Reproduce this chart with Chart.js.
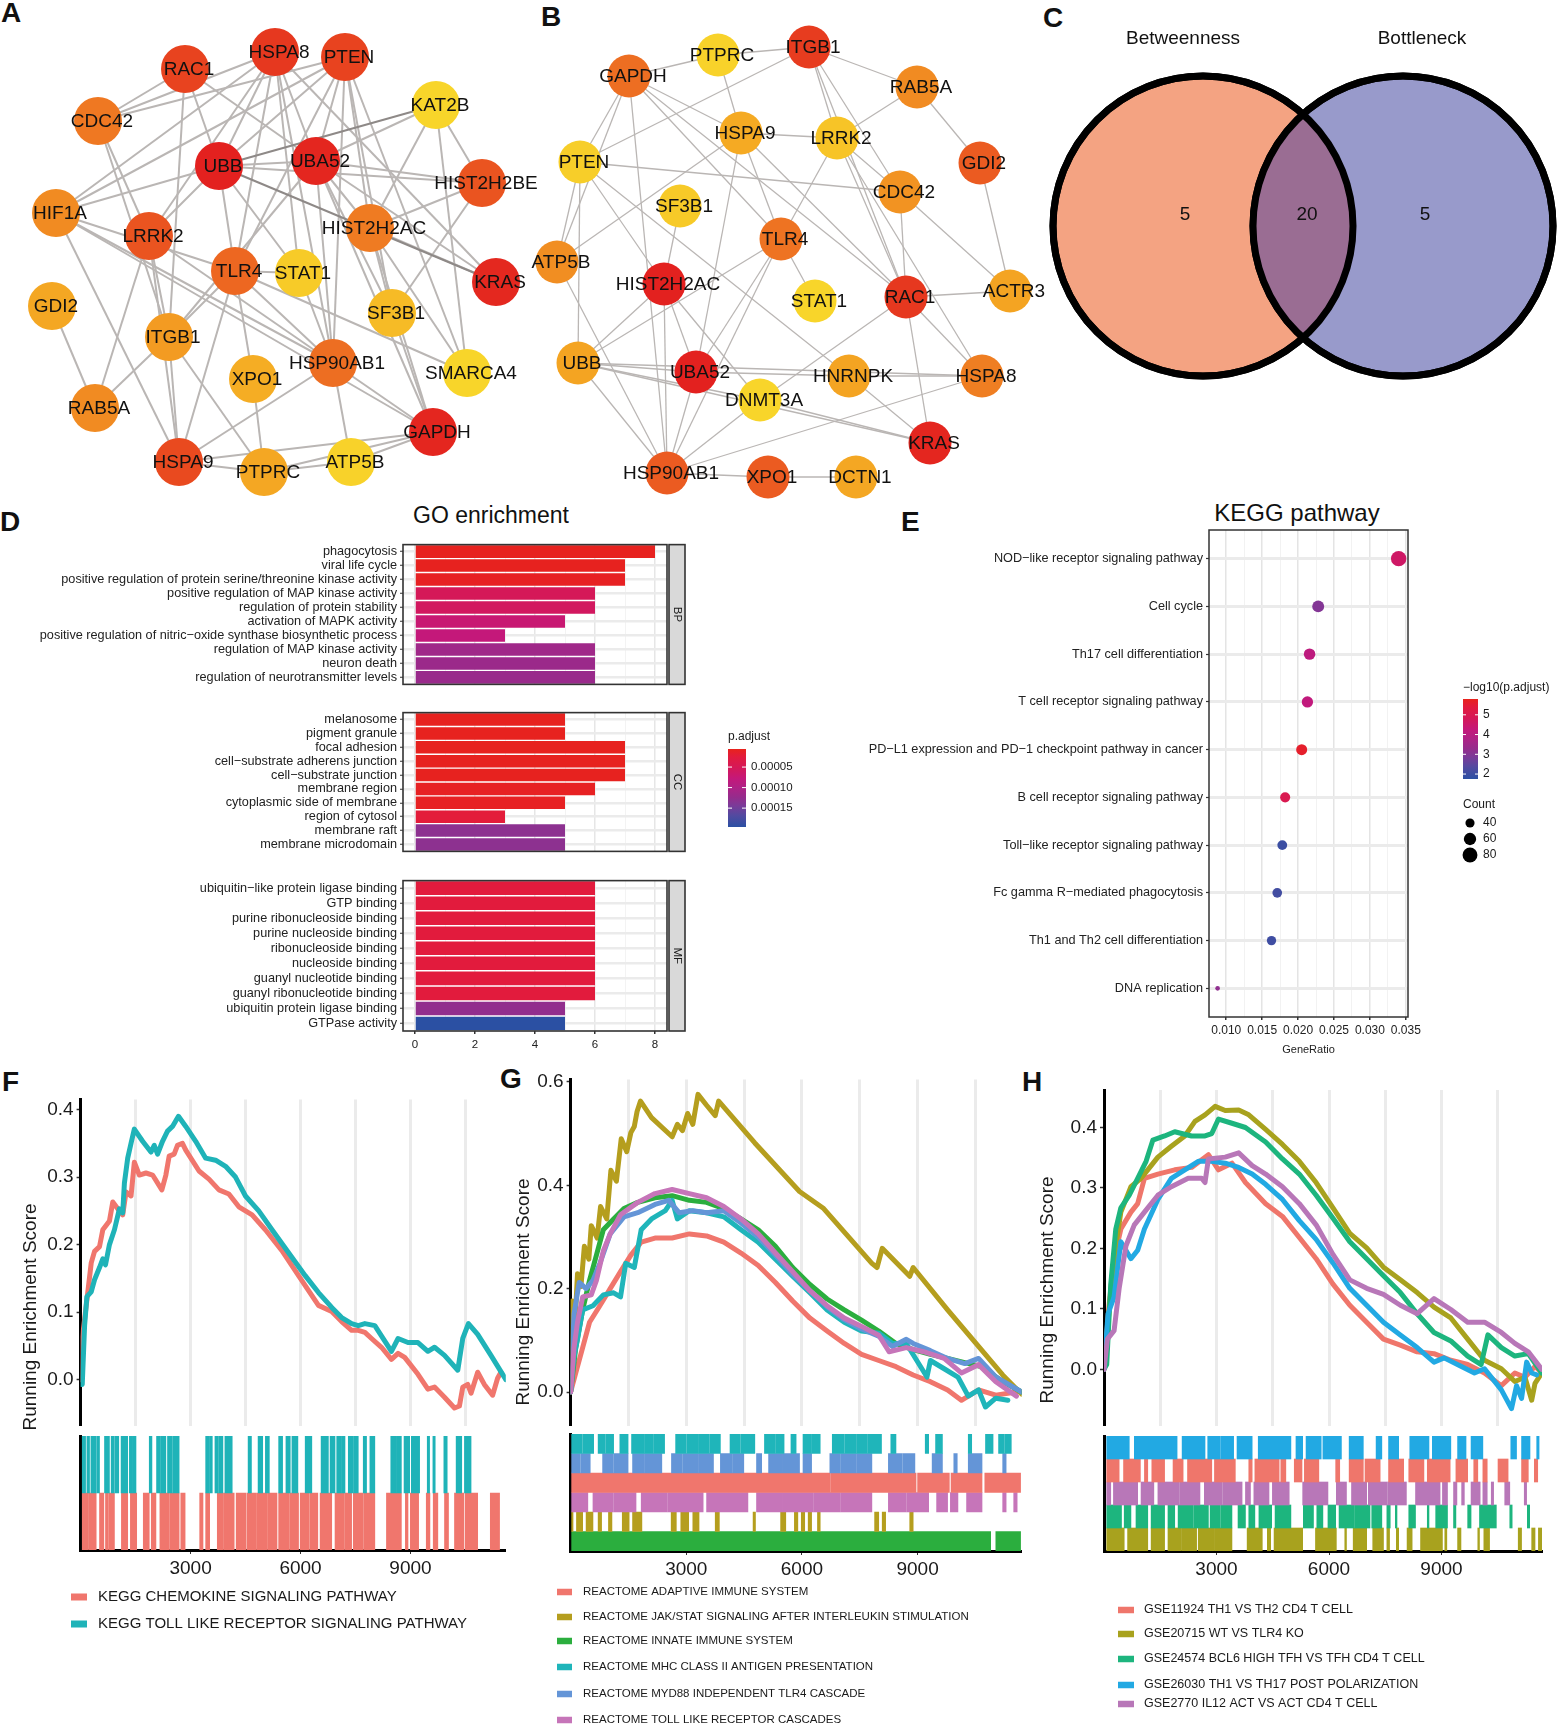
<!DOCTYPE html>
<html>
<head>
<meta charset="utf-8">
<title>PPI network, enrichment and GSEA</title>
<script src="https://cdn.jsdelivr.net/npm/chart.js@4.4.1/dist/chart.umd.min.js"></script>
<style>
  html, body { margin: 0; padding: 0; background: #fff; }
  #page { position: relative; width: 1558px; height: 1727px; overflow: hidden;
          font-family: "Liberation Sans", Arial, Helvetica, sans-serif; color: #111; }
  #page canvas { position: absolute; }
  .tag { position: absolute; font-weight: bold; font-size: 28px; line-height: 28px; }
  .ttl { position: absolute; width: 300px; text-align: center; color: #111; }
</style>
</head>
<body>
<div id="page">
  <div class="tag" style="left:1px;top:-1px">A</div>
  <div class="tag" style="left:541px;top:3px">B</div>
  <div class="tag" style="left:1043px;top:4px">C</div>
  <div class="tag" style="left:0px;top:508px">D</div>
  <div class="tag" style="left:901px;top:508px">E</div>
  <div class="tag" style="left:2px;top:1068px">F</div>
  <div class="tag" style="left:500px;top:1065px">G</div>
  <div class="tag" style="left:1022px;top:1068px">H</div>
  <div class="ttl" style="left:341px;top:504px;font-size:23px;line-height:23px">GO enrichment</div>
  <div class="ttl" style="left:1147px;top:501px;font-size:24px;line-height:24px">KEGG pathway</div>
</div>
<script>
// ---------------- data ----------------
// A: hub network (layout units = px of the panel), score 0 = top rank (red) .. 1 = low (yellow)
var netA_genes = ['RAC1','HSPA8','PTEN','CDC42','KAT2B','UBB','UBA52','HIST2H2BE','HIF1A','LRRK2','HIST2H2AC','TLR4','STAT1','KRAS','GDI2','SF3B1','ITGB1','XPO1','HSP90AB1','SMARCA4','RAB5A','GAPDH','HSPA9','PTPRC','ATP5B'];
var netA_x = [185,275,345,98,436,219,316,482,56,149,370,235,299,496,52,392,169,253,333,467,95,433,179,264,351];
var netA_y = [69,52,57,121,105,166,161,183,213,236,228,271,273,282,306,313,337,379,363,373,408,432,462,472,462];
var netA_score = [0.15,0.1,0.15,0.38,1,0,0.02,0.22,0.5,0.22,0.4,0.3,0.93,0.03,0.68,0.82,0.6,0.72,0.33,1,0.5,0.02,0.18,0.68,0.98];
var netA_links = ['RAC1-CDC42','RAC1-UBB','RAC1-ITGB1','RAC1-UBA52','HSPA8-CDC42','HSPA8-HIF1A','HSPA8-UBB','HSPA8-UBA52','HSPA8-TLR4','HSPA8-LRRK2','HSPA8-KRAS','HSPA8-STAT1','HSPA8-HSP90AB1','PTEN-CDC42','PTEN-HIF1A','PTEN-UBB','PTEN-UBA52','PTEN-TLR4','PTEN-HIST2H2AC','PTEN-SMARCA4','PTEN-HSP90AB1','PTEN-SF3B1','KAT2B-UBA52','KAT2B-HIST2H2AC','KAT2B-HIST2H2BE','KAT2B-SMARCA4','UBB-UBA52','UBB-HIST2H2BE','UBB-HIF1A','UBB-TLR4','UBB-STAT1','UBB-LRRK2','UBA52-HIST2H2BE','UBA52-HIST2H2AC','UBA52-SF3B1','UBA52-HSP90AB1','UBA52-ITGB1','UBA52-GAPDH','UBA52-KRAS','HIST2H2BE-HIST2H2AC','HIST2H2BE-SF3B1','HIF1A-HSP90AB1','HIF1A-TLR4','HIF1A-GAPDH','HIF1A-HSPA9','CDC42-LRRK2','CDC42-ITGB1','LRRK2-RAB5A','LRRK2-HSP90AB1','LRRK2-HSPA9','LRRK2-ITGB1','HIST2H2AC-SF3B1','HIST2H2AC-KRAS','HIST2H2AC-SMARCA4','HIST2H2AC-GAPDH','TLR4-STAT1','TLR4-ITGB1','TLR4-HSPA9','TLR4-XPO1','TLR4-SMARCA4','TLR4-HSP90AB1','STAT1-HSP90AB1','GDI2-RAB5A','ITGB1-RAB5A','ITGB1-HSPA9','ITGB1-PTPRC','HSP90AB1-HSPA9','HSP90AB1-GAPDH','HSP90AB1-ATP5B','SF3B1-GAPDH','XPO1-PTPRC','GAPDH-ATP5B','GAPDH-PTPRC','GAPDH-HSPA9','HSPA9-PTPRC','PTPRC-ATP5B'];
var netA_strong = ['KAT2B-UBB','UBB-KRAS'];

// B
var netB_genes = ['PTPRC','ITGB1','GAPDH','RAB5A','HSPA9','LRRK2','PTEN','GDI2','CDC42','SF3B1','TLR4','ATP5B','HIST2H2AC','STAT1','RAC1','ACTR3','UBB','UBA52','HNRNPK','HSPA8','DNMT3A','KRAS','HSP90AB1','XPO1','DCTN1'];
var netB_x = [718,809,629,917,741,837,580,980,900,680,781,557,664,815,906,1010,578,696,849,982,760,930,667,768,856];
var netB_y = [55,47,76,87,133,138,162,163,192,206,239,262,284,301,297,291,363,372,376,376,400,443,473,477,477];
var netB_score = [0.98,0.12,0.33,0.5,0.7,0.88,0.95,0.25,0.55,0.92,0.35,0.52,0,1,0.1,0.66,0.66,0,0.66,0.42,1,0.02,0.25,0.25,0.68];
var netB_links = ['GAPDH-PTPRC','PTPRC-ITGB1','PTPRC-HSPA9','ITGB1-PTEN','ITGB1-RAB5A','ITGB1-CDC42','ITGB1-RAC1','ITGB1-LRRK2','RAB5A-LRRK2','RAB5A-GDI2','GDI2-ACTR3','GAPDH-PTEN','GAPDH-ATP5B','GAPDH-HSP90AB1','GAPDH-HSPA9','GAPDH-TLR4','GAPDH-RAC1','HSPA9-LRRK2','HSPA9-TLR4','HSPA9-ATP5B','HSPA9-UBA52','HSPA9-RAC1','LRRK2-CDC42','LRRK2-TLR4','LRRK2-RAC1','LRRK2-HSPA8','PTEN-CDC42','PTEN-ATP5B','PTEN-UBB','PTEN-HIST2H2AC','PTEN-HNRNPK','SF3B1-HIST2H2AC','TLR4-STAT1','TLR4-UBA52','TLR4-UBB','TLR4-HSP90AB1','CDC42-RAC1','CDC42-ACTR3','RAC1-ACTR3','RAC1-HSPA8','RAC1-KRAS','RAC1-DNMT3A','ATP5B-HSP90AB1','HIST2H2AC-UBB','HIST2H2AC-UBA52','HIST2H2AC-HSP90AB1','HIST2H2AC-DNMT3A','UBB-UBA52','UBB-HSPA8','UBB-DNMT3A','UBB-HSP90AB1','UBB-KRAS','UBA52-HSP90AB1','UBA52-HNRNPK','HNRNPK-KRAS','HNRNPK-HSPA8','DNMT3A-HSP90AB1','DNMT3A-KRAS','HSPA8-HSP90AB1','HSP90AB1-XPO1','XPO1-DCTN1'];

// C: Venn
var vennNames = ['Betweenness', 'Bottleneck'];
var vennOnly = [5, 5];
var vennBoth = 20;

// D: GO enrichment
var bpTerms = ['phagocytosis','viral life cycle','positive regulation of protein serine/threonine kinase activity','positive regulation of MAP kinase activity','regulation of protein stability','activation of MAPK activity','positive regulation of nitric\u2212oxide synthase biosynthetic process','regulation of MAP kinase activity','neuron death','regulation of neurotransmitter levels'];
var bpCount = [8,7,7,6,6,5,3,6,6,6];
var bpPadj = [0.000008,0.000008,0.00001,0.000052,0.000057,0.000072,0.000078,0.000114,0.000118,0.00012];
var ccTerms = ['melanosome','pigment granule','focal adhesion','cell\u2212substrate adherens junction','cell\u2212substrate junction','membrane region','cytoplasmic side of membrane','region of cytosol','membrane raft','membrane microdomain'];
var ccCount = [5,5,7,7,7,6,5,3,5,5];
var ccPadj = [0.000008,0.000008,0.000008,0.000008,0.000008,0.00001,0.00001,0.000023,0.00013,0.00013];
var mfTerms = ['ubiquitin\u2212like protein ligase binding','GTP binding','purine ribonucleoside binding','purine nucleoside binding','ribonucleoside binding','nucleoside binding','guanyl nucleotide binding','guanyl ribonucleotide binding','ubiquitin protein ligase binding','GTPase activity'];
var mfCount = [6,6,6,6,6,6,6,6,5,5];
var mfPadj = [0.000025,0.000025,0.000025,0.000025,0.000025,0.000025,0.000025,0.000025,0.000126,0.000196];
var padjBreaks = [0.00005, 0.00010, 0.00015];
var countTicks = [0, 2, 4, 6, 8];

// E: KEGG
var keggTerms = ['NOD\u2212like receptor signaling pathway','Cell cycle','Th17 cell differentiation','T cell receptor signaling pathway','PD\u2212L1 expression and PD\u22121 checkpoint pathway in cancer','B cell receptor signaling pathway','Toll\u2212like receptor signaling pathway','Fc gamma R\u2212mediated phagocytosis','Th1 and Th2 cell differentiation','DNA replication'];
var keggRatio = [0.0340,0.0228,0.0216,0.0213,0.0205,0.0182,0.0178,0.0171,0.0163,0.0088];
var keggCount = [85,57,54,53,51,45,44,43,41,22];
var keggLogP = [4.6,3.0,4.1,4.2,5.6,5.0,2.0,2.1,2.05,3.2];
var keggTicks = [0.010,0.015,0.020,0.025,0.030,0.035];
var keggBreaks = [5,4,3,2];
var countBreaks = [40,60,80];

// F/G/H: GSEA rank ticks
var rankTicks = [3000, 6000, 9000];

// F: GSEA (rank, running ES) and hit ranges
var fNames = ['KEGG CHEMOKINE SIGNALING PATHWAY','KEGG TOLL LIKE RECEPTOR SIGNALING PATHWAY'];
var fChemokine = [[0,0],[18,0.048],[154,0.11],[290,0.173],[380,0.19],[516,0.197],[606,0.222],[787,0.235],[878,0.263],[1014,0.253],[1149,0.244],[1240,0.278],[1376,0.272],[1466,0.322],[1602,0.303],[1783,0.306],[1964,0.303],[2217,0.281],[2326,0.303],[2416,0.331],[2552,0.334],[2643,0.347],[2778,0.35],[2869,0.34],[3231,0.309],[3502,0.297],[3774,0.281],[4045,0.275],[4317,0.256],[4679,0.244],[5041,0.222],[5493,0.191],[5946,0.154],[6489,0.11],[6851,0.101],[7122,0.086],[7394,0.073],[7575,0.073],[7756,0.07],[7937,0.061],[8208,0.048],[8480,0.03],[8661,0.039],[8842,0.033],[9204,0.008],[9475,-0.014],[9656,-0.011],[9928,-0.026],[10200,-0.042],[10335,-0.039],[10426,-0.011],[10561,-0.007],[10652,-0.02],[10833,0.011],[11014,-0.007],[11240,-0.023],[11376,0.002],[11467,0.011]];
var fToll = [[0,-0.007],[45,-0.007],[109,0.08],[172,0.123],[290,0.13],[380,0.148],[516,0.166],[606,0.179],[679,0.17],[787,0.2],[923,0.222],[1059,0.253],[1149,0.247],[1195,0.291],[1285,0.328],[1376,0.35],[1466,0.371],[1692,0.353],[1919,0.337],[2009,0.347],[2100,0.334],[2235,0.353],[2371,0.368],[2507,0.375],[2670,0.39],[2869,0.375],[3140,0.353],[3412,0.328],[3683,0.325],[3955,0.316],[4226,0.3],[4498,0.272],[4860,0.25],[5222,0.222],[5674,0.188],[6127,0.154],[6489,0.129],[6851,0.107],[7122,0.092],[7394,0.083],[7575,0.08],[7756,0.083],[8027,0.08],[8480,0.042],[8661,0.061],[8932,0.055],[9204,0.055],[9475,0.042],[9656,0.048],[9928,0.036],[10290,0.014],[10426,0.061],[10580,0.083],[10833,0.067],[11195,0.036],[11602,0.0]];
var fChemokineHits = [[45,200],[215,425],[516,634],[679,760],[780,923],[1113,1285],[1358,1530],[1710,1873],[1928,2055],[2163,2420],[2435,2688],[2733,2851],[3249,3339],[3412,3521],[3729,3900],[3920,4190],[4244,4516],[4543,4800],[4820,5100],[5120,5358],[5403,5680],[5700,5946],[5991,6240],[6260,6471],[6534,6851],[6941,7180],[7200,7394],[7439,7700],[7720,8027],[8344,8751],[8860,8932],[8996,9222],[9430,9530],[9620,9746],[9928,10037],[10200,10453],[10489,10833],[11177,11430]];
var fTollHits = [[45,136],[172,244],[281,425],[443,516],[652,787],[833,920],[940,1041],[1104,1285],[1330,1420],[1435,1511],[1873,1946],[2072,2180],[2195,2326],[2371,2500],[2515,2688],[3412,3500],[3515,3593],[3665,3760],[3775,3882],[3937,4136],[4570,4661],[4842,4968],[5041,5149],[5403,5511],[5602,5720],[5765,5928],[6127,6308],[6561,6760],[6806,6941],[6987,7100],[7115,7213],[7303,7430],[7445,7575],[7711,7801],[7892,8027],[8462,8600],[8615,8751],[8824,8978],[9023,9249],[9457,9521],[9611,9674],[9910,10001],[10245,10398],[10471,10652]];

// G
var gNames = ['REACTOME ADAPTIVE IMMUNE SYSTEM','REACTOME JAK/STAT SIGNALING AFTER INTERLEUKIN STIMULATION','REACTOME INNATE IMMUNE SYSTEM','REACTOME MHC CLASS II ANTIGEN PRESENTATION','REACTOME MYD88 INDEPENDENT TLR4 CASCADE','REACTOME TOLL LIKE RECEPTOR CASCADES'];
var gAdaptive = [[0,0],[134,0.037],[313,0.086],[491,0.135],[759,0.167],[1027,0.2],[1295,0.233],[1563,0.265],[1831,0.29],[2188,0.298],[2634,0.298],[3081,0.306],[3527,0.302],[3974,0.29],[4420,0.269],[4867,0.245],[5313,0.212],[5760,0.176],[6206,0.143],[6653,0.118],[7099,0.094],[7546,0.073],[7992,0.061],[8439,0.049],[8885,0.033],[9332,0.02],[9778,0.004],[10136,-0.016],[10582,0.004],[11028,-0.006],[11564,0]];
var gJak = [[0,0],[45,0.176],[116,0.135],[179,0.229],[268,0.204],[357,0.282],[473,0.257],[536,0.322],[688,0.298],[777,0.359],[938,0.335],[1045,0.429],[1188,0.408],[1313,0.49],[1456,0.465],[1563,0.502],[1652,0.514],[1724,0.543],[1813,0.563],[2099,0.531],[2634,0.494],[2768,0.518],[2902,0.506],[3036,0.539],[3170,0.518],[3304,0.576],[3527,0.555],[3751,0.535],[3840,0.563],[4778,0.482],[5938,0.388],[6564,0.355],[7814,0.249],[7948,0.241],[8082,0.278],[8796,0.224],[8885,0.241],[9778,0.159],[11207,0.033],[11698,-0.004]];
var gInnate = [[0,0],[134,0.086],[313,0.159],[491,0.216],[670,0.265],[848,0.314],[1116,0.335],[1384,0.355],[1741,0.367],[2188,0.376],[2634,0.38],[3081,0.371],[3527,0.367],[3974,0.355],[4420,0.335],[4867,0.314],[5313,0.282],[5760,0.241],[6206,0.208],[6653,0.18],[7099,0.159],[7546,0.139],[7992,0.118],[8439,0.094],[8885,0.082],[9332,0.073],[9778,0.065],[10225,0.057],[10671,0.049],[11207,0.02],[11698,0]];
var gMhc = [[0,0],[89,0.069],[179,0.102],[313,0.159],[580,0.167],[848,0.188],[1116,0.192],[1295,0.184],[1429,0.249],[1652,0.241],[1831,0.314],[2099,0.335],[2456,0.351],[2634,0.371],[2768,0.335],[3081,0.351],[3527,0.347],[3974,0.339],[4420,0.314],[4867,0.29],[5313,0.257],[5760,0.224],[6206,0.192],[6653,0.159],[7099,0.135],[7546,0.118],[7992,0.114],[8350,0.094],[8707,0.094],[9243,0.029],[9332,0.061],[9689,0.045],[10046,0.029],[10314,-0.008],[10582,0.004],[10760,-0.029],[11028,-0.012],[11341,-0.016]];
var gMyd = [[0,0],[89,0.151],[223,0.212],[402,0.2],[580,0.216],[759,0.249],[1027,0.306],[1384,0.339],[1741,0.347],[2188,0.363],[2545,0.371],[2813,0.347],[3170,0.351],[3527,0.347],[3974,0.351],[4420,0.327],[4867,0.3],[5313,0.265],[5760,0.228],[6206,0.196],[6653,0.165],[7099,0.14],[7546,0.122],[7992,0.108],[8350,0.088],[8707,0.102],[8885,0.094],[9332,0.08],[9778,0.065],[10225,0.055],[10582,0.065],[11028,0.029],[11698,0]];
var gToll = [[0,0],[89,0.086],[179,0.135],[313,0.184],[536,0.188],[670,0.216],[848,0.273],[1027,0.306],[1295,0.343],[1741,0.367],[2188,0.384],[2634,0.392],[3081,0.384],[3527,0.376],[3974,0.359],[4420,0.335],[4867,0.306],[5313,0.269],[5760,0.233],[6206,0.196],[6653,0.167],[7099,0.143],[7546,0.127],[7992,0.11],[8260,0.078],[8707,0.086],[9153,0.078],[9689,0.065],[10136,0.037],[10582,0.053],[11028,0.02],[11564,-0.008]];
var gMhcHits = [[27,300],[315,598],[714,900],[915,1116],[1277,1491],[1581,1900],[1915,2150],[2165,2438],[2724,3000],[3015,3300],[3315,3600],[3615,3885],[4135,4400],[4415,4778],[5028,5300],[5315,5537],[5715,5849],[6028,6250],[6265,6474],[6787,7100],[7115,7400],[7415,7700],[7715,8064],[8305,8439],[9198,9287],[9466,9644],[10314,10403],[10761,10957],[11100,11250],[11265,11430]];
var gMydHits = [[27,250],[265,509],[830,1100],[1115,1491],[1607,1900],[1915,2366],[2616,2900],[2915,3300],[3315,3706],[3885,4200],[4215,4492],[4822,4956],[5135,5500],[5515,5938],[6028,6251],[6724,7000],[7015,7400],[7415,7814],[8242,8600],[8615,8930],[9377,9644],[9939,10028],[10314,10671],[11207,11296]];
var gAdaptiveHits = [[27,6724],[6742,8960],[9000,9823],[9868,10671],[10743,11671]];
var gTollHits = [[27,447],[580,1100],[1115,1697],[1831,2500],[2515,3438],[3527,4100],[4115,4599],[4822,5500],[5515,6300],[6315,7000],[7015,7814],[8242,8700],[8715,9287],[9493,9778],[9850,10046],[10270,10671],[11207,11296],[11493,11582]];
var gJakHits = [[27,63],[152,313],[402,580],[714,804],[982,1072],[1340,1518],[1607,1849],[2608,2742],[2858,3063],[3170,3331],[3751,3858],[4733,4795],[5447,5581],[5804,5894],[5983,6072],[6162,6251],[6403,6474],[7885,7992],[8082,8171],[8796,8885]];
var gInnateHits = [[27,10895],[11029,11671]];

// H
var hNames = ['GSE11924 TH1 VS TH2 CD4 T CELL','GSE20715 WT VS TLR4 KO','GSE24574 BCL6 HIGH TFH VS TFH CD4 T CELL','GSE26030 TH1 VS TH17 POST POLARIZATION','GSE2770 IL12 ACT VS ACT CD4 T CELL'];
var hTh1 = [[0,0],[135,0.106],[269,0.183],[449,0.232],[718,0.26],[898,0.274],[1078,0.316],[1437,0.323],[1886,0.33],[2335,0.334],[2784,0.355],[3053,0.33],[3412,0.341],[3772,0.309],[4310,0.274],[4759,0.253],[5208,0.218],[5657,0.183],[6106,0.141],[6555,0.106],[7004,0.078],[7453,0.05],[7902,0.04],[8351,0.029],[8800,0.026],[9249,0.015],[9698,0.008],[10147,-0.006],[10596,-0.027],[10956,-0.006],[11225,-0.013],[11494,0.005],[11674,-0.006]];
var hTlr4 = [[0,0],[108,0.078],[180,0.127],[314,0.204],[449,0.26],[584,0.281],[718,0.302],[988,0.316],[1257,0.337],[1437,0.351],[1796,0.369],[2155,0.386],[2425,0.41],[2694,0.421],[2963,0.435],[3233,0.428],[3592,0.429],[3861,0.421],[4310,0.397],[4759,0.372],[5208,0.344],[5657,0.309],[6106,0.267],[6555,0.225],[7004,0.201],[7453,0.169],[7902,0.148],[8351,0.127],[8800,0.103],[9249,0.085],[9698,0.05],[10147,0.015],[10596,0.001],[10956,-0.02],[11225,-0.013],[11405,-0.051],[11494,-0.023],[11674,-0.006]];
var hBcl6 = [[0,0],[72,0.008],[180,0.141],[314,0.232],[449,0.267],[674,0.288],[898,0.316],[1122,0.344],[1302,0.379],[1616,0.386],[1886,0.393],[2335,0.386],[2694,0.386],[2874,0.39],[3053,0.414],[3412,0.407],[3772,0.4],[4310,0.376],[4759,0.348],[5208,0.323],[5657,0.288],[6106,0.25],[6555,0.211],[7004,0.183],[7453,0.155],[7902,0.127],[8351,0.092],[8800,0.061],[9249,0.047],[9698,0.022],[10057,0.008],[10237,0.057],[10596,0.036],[10956,0.022],[11315,0.026],[11674,-0.006]];
var hTh17 = [[0,0],[108,0.092],[269,0.12],[449,0.211],[718,0.183],[898,0.197],[1078,0.232],[1437,0.281],[1796,0.316],[2155,0.33],[2514,0.344],[2874,0.344],[3233,0.341],[3592,0.334],[3951,0.323],[4310,0.306],[4759,0.281],[5208,0.246],[5657,0.215],[6106,0.176],[6555,0.134],[7004,0.106],[7453,0.078],[7902,0.057],[8351,0.036],[8800,0.012],[9069,0.019],[9518,0.005],[9878,-0.006],[10147,0.001],[10596,-0.034],[10866,-0.065],[11001,-0.027],[11135,-0.048],[11270,0.012],[11405,-0.006],[11539,-0.009]];
var hIl12 = [[0,0],[90,0.05],[269,0.064],[404,0.134],[584,0.204],[808,0.239],[1078,0.26],[1437,0.288],[1796,0.302],[2245,0.316],[2604,0.316],[2694,0.309],[2784,0.348],[3233,0.351],[3592,0.358],[3951,0.337],[4310,0.323],[4759,0.302],[5208,0.274],[5657,0.239],[6106,0.19],[6555,0.148],[7004,0.134],[7453,0.124],[7902,0.106],[8351,0.092],[8800,0.117],[9249,0.099],[9698,0.078],[10147,0.078],[10596,0.061],[10956,0.043],[11315,0.029],[11674,0]];
var hTh17Hits = [[72,674],[808,1300],[1315,1949],[2083,2694],[2766,3100],[3115,3457],[3547,3951],[4113,4500],[4515,4984],[5119,5298],[5388,5792],[5837,6331],[6537,6915],[7256,7409],[7588,7858],[8154,8666],[8756,9249],[9429,9654],[9788,10103],[10848,11001],[11135,11360],[11539,11602]];
var hTh1Hits = [[72,404],[521,970],[1078,1167],[1275,1616],[1841,2110],[2227,2874],[2945,3502],[3861,3951],[4023,4670],[4715,4849],[5074,5280],[5343,5729],[6178,6286],[6537,6915],[6960,7364],[7588,7992],[8127,8531],[8621,9231],[9384,9698],[9860,9968],[10103,10219],[10507,10776],[11135,11315],[11476,11566]];
var hIl12Hits = [[72,180],[251,898],[988,1329],[1437,2000],[2015,2559],[2676,3150],[3165,3682],[3772,3906],[3996,4400],[4490,4939],[5298,5972],[6196,6466],[6600,7004],[7049,7550],[7565,8064],[8307,8962],[9025,9160],[9321,9411],[9537,9609],[9788,10031],[10103,10219],[10327,10390],[10686,10821],[11207,11270]];
var hBcl6Hits = [[72,467],[539,718],[853,1167],[1257,1616],[1706,1886],[1976,2380],[2395,2784],[2829,3100],[3115,3412],[3574,3772],[3861,4023],[4131,4472],[4562,4984],[5316,5586],[5675,5837],[5972,6178],[6268,6680],[6695,7094],[7139,7409],[7543,7633],[7768,7813],[8127,8307],[8621,8666],[8845,9160],[9321,9384],[9698,9788],[10013,10462],[10821,10884],[11288,11351]];
var hTlr4Hits = [[72,539],[629,1167],[1257,1616],[1706,2050],[2065,2470],[2514,2950],[2965,3412],[3817,4221],[4355,4445],[4535,4900],[4915,5298],[5639,6196],[6421,6466],[6645,7004],[7166,7453],[7543,7615],[7795,7858],[8082,8217],[8441,9025],[9088,9142],[9429,9519],[9968,10013],[10129,10282],[11046,11135],[11405,11494],[11584,11674]];

// ---------------- helpers ----------------
var FONT = '"Liberation Sans", Arial, Helvetica, sans-serif';
Chart.defaults.font.family = FONT;
Chart.defaults.animation = false;
Chart.defaults.events = [];
Chart.defaults.layout.autoPadding = false;
Chart.defaults.plugins.legend.display = false;
Chart.defaults.plugins.tooltip.enabled = false;

var PAL = [[0,'#E8231C'],[0.1,'#E21B3D'],[0.25,'#D4185A'],[0.38,'#C4187A'],[0.5,'#AE2286'],[0.62,'#952C8C'],[0.72,'#7C3A98'],[0.85,'#534AA0'],[1,'#2B50A3']];
var HEAT = [[0,'#E3211F'],[0.15,'#E8431F'],[0.35,'#EE7322'],[0.65,'#F4A322'],[1,'#F8D52A']];
var P_LO = 0.000006, P_HI = 0.000196;
var L_HI = 5.8, L_LO = 1.75;

function rgb(h) { return [1, 3, 5].map(function (i) { return parseInt(h.substr(i, 2), 16); }); }
function ramp(stops, t) {
  t = Math.max(0, Math.min(1, t));
  for (var i = 1; i < stops.length; i++) {
    if (t <= stops[i][0]) {
      var f = (t - stops[i - 1][0]) / (stops[i][0] - stops[i - 1][0]);
      var a = rgb(stops[i - 1][1]), b = rgb(stops[i][1]);
      return 'rgb(' + a.map(function (v, k) { return Math.round(v + (b[k] - v) * f); }).join(',') + ')';
    }
  }
  return stops[stops.length - 1][1];
}
function padjColor(p) { return ramp(PAL, (p - P_LO) / (P_HI - P_LO)); }
function logpColor(v) { return ramp(PAL, (L_HI - v) / (L_HI - L_LO)); }
function dotSize(n) { return Math.sqrt(Math.max(1, 0.86 * n - 13.6)); }

function canvasAt(left, top, w, h) {
  var c = document.createElement('canvas');
  c.width = w; c.height = h;
  c.style.left = left + 'px'; c.style.top = top + 'px';
  c.style.width = w + 'px'; c.style.height = h + 'px';
  document.getElementById('page').appendChild(c);
  return c;
}

// ---------------- A, B: networks ----------------
function network(left, w, h, x0, genes, xs, ys, score, links, strong, r, lw) {
  var edgePlugin = {
    id: 'edges',
    beforeDatasetsDraw: function (chart) {
      var pts = chart.getDatasetMeta(0).data, ctx = chart.ctx;
      ctx.save();
      ctx.lineWidth = lw;
      links.concat(strong).forEach(function (l) {
        var ab = l.split('-'), p = pts[genes.indexOf(ab[0])], q = pts[genes.indexOf(ab[1])];
        ctx.strokeStyle = strong.indexOf(l) >= 0 ? '#8E8987' : '#BAB6B4';
        ctx.beginPath(); ctx.moveTo(p.x, p.y); ctx.lineTo(q.x, q.y); ctx.stroke();
      });
      ctx.restore();
    },
    afterDatasetsDraw: function (chart) {
      var pts = chart.getDatasetMeta(0).data, ctx = chart.ctx;
      ctx.save();
      ctx.font = '19px ' + FONT; ctx.fillStyle = '#111';
      ctx.textAlign = 'center'; ctx.textBaseline = 'middle';
      genes.forEach(function (g, i) { ctx.fillText(g, pts[i].x + 4, pts[i].y + 1); });
      ctx.restore();
    }
  };
  return new Chart(canvasAt(left, 0, w, h), {
    type: 'scatter',
    data: { datasets: [{ data: genes.map(function (g, i) { return { x: xs[i], y: ys[i] }; }),
      pointRadius: r, pointBackgroundColor: score.map(function (s) { return ramp(HEAT, s); }),
      pointBorderWidth: 0, clip: false }] },
    options: { responsive: false, layout: { padding: 0 },
      scales: { x: { display: false, min: x0, max: x0 + w }, y: { display: false, min: 0, max: h, reverse: true } } },
    plugins: [edgePlugin]
  });
}
network(0, 560, 510, 0, netA_genes, netA_x, netA_y, netA_score, netA_links, netA_strong, 24, 2);
network(520, 530, 520, 520, netB_genes, netB_x, netB_y, netB_score, netB_links, [], 21.5, 1.3);

// ---------------- C: Venn ----------------
var vennPlugin = {
  id: 'venn',
  afterDatasetsDraw: function (chart) {
    var d = chart.getDatasetMeta(0).data, a = d[0], b = d[1], R = a.options.radius, ctx = chart.ctx;
    ctx.save();
    ctx.beginPath(); ctx.arc(a.x, a.y, R, 0, Math.PI * 2); ctx.clip();
    ctx.beginPath(); ctx.arc(b.x, b.y, R, 0, Math.PI * 2);
    ctx.fillStyle = '#9A6D93'; ctx.fill();
    ctx.restore();
    ctx.save();
    ctx.lineWidth = 7; ctx.strokeStyle = '#000';
    [a, b].forEach(function (p) { ctx.beginPath(); ctx.arc(p.x, p.y, R, 0, Math.PI * 2); ctx.stroke(); });
    ctx.fillStyle = '#111'; ctx.textAlign = 'center'; ctx.textBaseline = 'middle';
    ctx.font = '19px ' + FONT;
    ctx.fillText(vennNames[0], a.x - 20, a.y - 187);
    ctx.fillText(vennNames[1], b.x + 19, b.y - 187);
    ctx.fillText(String(vennOnly[0]), a.x - 18, a.y - 11);
    ctx.fillText(String(vennBoth), (a.x + b.x) / 2 + 4, a.y - 11);
    ctx.fillText(String(vennOnly[1]), b.x + 22, b.y - 11);
    ctx.restore();
  }
};
new Chart(canvasAt(1043, 0, 515, 400), {
  type: 'scatter',
  data: { datasets: [{ data: vennNames.map(function (n, i) { return { x: i * 2 - 1, y: 0 }; }),
    pointRadius: 150, pointBackgroundColor: ['#F4A382', '#989ACB'], pointBorderColor: '#000',
    pointBorderWidth: 7, clip: false }] },
  options: { responsive: false, layout: { padding: 0 },
    scales: { x: { display: false, min: -2.6, max: 2.55 }, y: { display: false, min: -1.74, max: 2.26 } } },
  plugins: [vennPlugin]
});

// ---------------- D: GO enrichment facets ----------------
function padjKey(ctx) {
  ctx.save();
  ctx.font = '12px ' + FONT; ctx.fillStyle = '#1a1a1a'; ctx.textBaseline = 'middle';
  ctx.fillText('p.adjust', 728, 35);
  var g = ctx.createLinearGradient(0, 47, 0, 125);
  PAL.forEach(function (s) { g.addColorStop(s[0], s[1]); });
  ctx.fillStyle = g; ctx.fillRect(728, 47, 18, 78);
  ctx.font = '11.5px ' + FONT;
  padjBreaks.forEach(function (v) {
    var y = 47 + (v - P_LO) / (P_HI - P_LO) * 78;
    ctx.strokeStyle = '#fff'; ctx.lineWidth = 1;
    ctx.beginPath(); ctx.moveTo(728, y); ctx.lineTo(732, y); ctx.moveTo(742, y); ctx.lineTo(746, y); ctx.stroke();
    ctx.fillStyle = '#1a1a1a'; ctx.fillText(v.toFixed(5), 751, y);
  });
  ctx.restore();
}
function facet(top, height, terms, counts, padj, strip, withAxis, extra) {
  var box = {
    id: 'facetBox',
    afterDraw: function (chart) {
      var ctx = chart.ctx, a = chart.chartArea;
      ctx.save();
      ctx.strokeStyle = '#333'; ctx.lineWidth = 1.6;
      ctx.strokeRect(a.left, a.top, a.right - a.left, a.bottom - a.top);
      ctx.fillStyle = '#D9D9D9';
      ctx.fillRect(a.right + 2, a.top, 16, a.bottom - a.top);
      ctx.strokeRect(a.right + 2, a.top, 16, a.bottom - a.top);
      ctx.translate(a.right + 10, (a.top + a.bottom) / 2); ctx.rotate(Math.PI / 2);
      ctx.fillStyle = '#1a1a1a'; ctx.font = '11.5px ' + FONT;
      ctx.textAlign = 'center'; ctx.textBaseline = 'middle';
      ctx.fillText(strip, 0, 0);
      ctx.restore();
      if (extra) extra(ctx);
    }
  };
  function major(c) { return c.tick && countTicks.indexOf(c.tick.value) >= 0; }
  return new Chart(canvasAt(0, top, 820, height), {
    type: 'bar',
    data: { labels: terms, datasets: [{ data: counts, backgroundColor: padj.map(padjColor), borderWidth: 0,
      categoryPercentage: 0.9, barPercentage: 1 }] },
    options: {
      indexAxis: 'y', responsive: false,
      layout: { padding: { left: 0, right: 153, top: 0, bottom: 0 } },
      scales: {
        x: { type: 'linear', min: -0.4, max: 8.4,
          afterBuildTicks: function (s) { s.ticks = [0, 1, 2, 3, 4, 5, 6, 7, 8].map(function (v) { return { value: v }; }); },
          ticks: { display: withAxis, autoSkip: false, maxRotation: 0,
            font: { size: 11.5 }, color: '#222', padding: 4,
            callback: function (v) { return countTicks.indexOf(v) >= 0 ? v : ''; } },
          grid: { color: function (c) { return major(c) ? '#E6E6E6' : '#F3F3F3'; },
            lineWidth: function (c) { return major(c) ? 1.5 : 1; },
            drawTicks: withAxis, tickLength: 3,
            tickColor: function (c) { return major(c) ? '#333' : 'rgba(0,0,0,0)'; } },
          border: { display: false },
          afterFit: function (s) { s.height = withAxis ? 29 : 0; } },
        y: { ticks: { font: { size: 12.7 }, color: '#222', padding: 3, autoSkip: false },
          grid: { offset: false, color: '#EBEBEB', lineWidth: 2.5, tickLength: 3, tickColor: '#333', tickWidth: 1 },
          border: { display: false },
          afterFit: function (s) { s.width = 403; } }
      }
    },
    plugins: [box]
  });
}
facet(534, 161, bpTerms, bpCount, bpPadj, 'BP', false, null);
facet(702, 160, ccTerms, ccCount, ccPadj, 'CC', false, padjKey);
facet(870, 190, mfTerms, mfCount, mfPadj, 'MF', true, null);

// ---------------- E: KEGG dot plot ----------------
function isKeggMajor(v) { return keggTicks.some(function (t) { return Math.abs(t - v) < 1e-9; }); }
var keggKey = {
  id: 'keggKey',
  afterDraw: function (chart) {
    var ctx = chart.ctx, a = chart.chartArea;
    ctx.save();
    ctx.strokeStyle = '#333'; ctx.lineWidth = 1.5;
    ctx.strokeRect(a.left, a.top, a.right - a.left, a.bottom - a.top);
    ctx.font = '12px ' + FONT; ctx.fillStyle = '#1a1a1a'; ctx.textBaseline = 'middle';
    ctx.fillText('\u2212log10(p.adjust)', 613, 188);
    var g = ctx.createLinearGradient(0, 199, 0, 279);
    PAL.forEach(function (s) { g.addColorStop(s[0], s[1]); });
    ctx.fillStyle = g; ctx.fillRect(613, 199, 15, 80);
    keggBreaks.forEach(function (v) {
      var y = 199 + (L_HI - v) / (L_HI - L_LO) * 80;
      ctx.strokeStyle = '#fff'; ctx.lineWidth = 1;
      ctx.beginPath(); ctx.moveTo(613, y); ctx.lineTo(616, y); ctx.moveTo(625, y); ctx.lineTo(628, y); ctx.stroke();
      ctx.fillStyle = '#1a1a1a'; ctx.fillText(String(v), 633, y);
    });
    ctx.fillText('Count', 613, 305);
    countBreaks.forEach(function (n, i) {
      var y = 323 + i * 16;
      ctx.fillStyle = '#000';
      ctx.beginPath(); ctx.arc(620, y, dotSize(n), 0, Math.PI * 2); ctx.fill();
      ctx.fillStyle = '#1a1a1a'; ctx.fillText(String(n), 633, y);
    });
    ctx.restore();
  }
};
new Chart(canvasAt(850, 500, 708, 560), {
  type: 'bubble',
  data: { datasets: [{ data: keggTerms.map(function (t, i) { return { x: keggRatio[i], y: i + 1, r: dotSize(keggCount[i]) }; }),
    backgroundColor: keggLogP.map(logpColor), borderWidth: 0, clip: false }] },
  options: {
    responsive: false,
    layout: { padding: { left: 0, right: 150, top: 30, bottom: 0 } },
    scales: {
      x: { type: 'linear', min: 0.0076, max: 0.0353,
        afterBuildTicks: function (s) {
          var v = [];
          keggTicks.forEach(function (t, i) { v.push({ value: t }); if (i < keggTicks.length - 1) v.push({ value: (t + keggTicks[i + 1]) / 2 }); });
          s.ticks = v;
        },
        ticks: { autoSkip: false, maxRotation: 0, font: { size: 12 }, color: '#222', padding: 3,
          callback: function (v) { return isKeggMajor(v) ? v.toFixed(3) : ''; } },
        grid: { color: function (c) { return c.tick && isKeggMajor(c.tick.value) ? '#E4E4E4' : '#EFEFEF'; },
          lineWidth: function (c) { return c.tick && isKeggMajor(c.tick.value) ? 1.5 : 0.8; },
          tickLength: 3, tickColor: function (c) { return c.tick && isKeggMajor(c.tick.value) ? '#333' : 'rgba(0,0,0,0)'; } },
        border: { display: false },
        title: { display: true, text: 'GeneRatio', font: { size: 11 }, color: '#222', padding: { top: 2, bottom: 3 } },
        afterFit: function (s) { s.height = 43; } },
      y: { min: 0.4, max: 10.6, reverse: true,
        afterBuildTicks: function (s) { s.ticks = keggTerms.map(function (t, i) { return { value: i + 1 }; }); },
        ticks: { autoSkip: false, font: { size: 12.7 }, color: '#222', padding: 3,
          callback: function (v) { return keggTerms[v - 1]; } },
        grid: { color: '#EBEBEB', lineWidth: 3, tickLength: 3, tickColor: '#333', tickWidth: 1.2 },
        border: { display: false },
        afterFit: function (s) { s.width = 359; } }
    }
  },
  plugins: [keggKey]
});

// ---------------- F, G, H: GSEA ----------------
function gsea(p) {
  var titlePlugin = {
    id: 'yTitle',
    afterDraw: function (chart) {
      var ctx = chart.ctx;
      ctx.save();
      ctx.translate(p.titleX, p.titleY); ctx.rotate(-Math.PI / 2);
      ctx.font = '19px ' + FONT; ctx.fillStyle = '#1a1a1a';
      ctx.textAlign = 'center'; ctx.textBaseline = 'middle';
      ctx.fillText('Running Enrichment Score', 0, 0);
      ctx.restore();
    }
  };
  var keyPlugin = {
    id: 'keyBox',
    afterDraw: function (chart) {
      var ctx = chart.ctx, k = p.key;
      ctx.save();
      ctx.font = k.size + 'px ' + FONT; ctx.textBaseline = 'middle'; ctx.textAlign = 'left';
      p.sets.forEach(function (s, i) {
        ctx.fillStyle = s.color;
        ctx.fillRect(k.x, k.rows[i] - k.h / 2, k.w, k.h);
        ctx.fillStyle = '#1a1a1a';
        ctx.fillText(s.name, k.tx, k.rows[i]);
      });
      ctx.restore();
    }
  };
  new Chart(canvasAt(p.left, p.esTop, p.w, p.esH), {
    type: 'line',
    data: { datasets: p.sets.map(function (s, i) {
      return { label: s.name, data: s.curve.map(function (d) { return { x: d[0], y: d[1] }; }),
        borderColor: s.color, borderWidth: 5, pointRadius: 0, tension: 0, fill: false,
        borderJoinStyle: 'round', borderCapStyle: 'round', order: p.sets.length - i };
    }) },
    options: {
      responsive: false,
      layout: { padding: { left: p.padL, right: p.padR, top: p.esPadT, bottom: p.esPadB } },
      scales: {
        x: { type: 'linear', min: 0, max: p.N,
          afterBuildTicks: function (s) {
            var t = [];
            for (var v = 1500; v < p.N; v += 1500) t.push({ value: v });
            s.ticks = t;
          },
          ticks: { display: false },
          grid: { color: '#EBEBEB', lineWidth: 3, drawTicks: false },
          border: { display: false },
          afterFit: function (s) { s.height = 0; } },
        y: { min: p.yMin, max: p.yMax,
          ticks: { stepSize: p.yStep, includeBounds: false, font: { size: 19 }, color: '#1a1a1a', padding: 3,
            callback: function (v) { return v.toFixed(1); } },
          grid: { drawOnChartArea: false, tickLength: 4, tickColor: '#333', tickWidth: 1.5 },
          border: { color: '#000', width: 3 },
          afterFit: function (s) { s.width = p.axisW; } }
      }
    },
    plugins: [titlePlugin]
  });
  new Chart(canvasAt(p.left, p.rugTop, p.w, p.rugH), {
    type: 'bar',
    data: { labels: p.rows.map(function (s) { return s.name; }),
      datasets: p.rows.map(function (s) {
        return { label: s.name, data: s.hits.map(function (h) { return { x: h, y: s.name }; }),
          backgroundColor: s.color, borderWidth: 0, grouped: false, barPercentage: 1, categoryPercentage: 1 };
      }) },
    options: {
      indexAxis: 'y', responsive: false,
      layout: { padding: { left: p.padL, right: p.padR, top: 3, bottom: p.rugPadB } },
      scales: {
        x: { type: 'linear', min: 0, max: p.N,
          afterBuildTicks: function (s) { s.ticks = rankTicks.map(function (v) { return { value: v }; }); },
          ticks: { autoSkip: false, maxRotation: 0, font: { size: 19 }, color: '#1a1a1a', padding: 3,
            callback: function (v) { return String(v); } },
          grid: { drawOnChartArea: false, tickLength: 4, tickColor: '#333' },
          border: { color: '#000', width: 3 },
          afterFit: function (s) { s.height = 30; } },
        y: { ticks: { display: false }, grid: { display: false }, border: { color: '#000', width: 3 },
          afterFit: function (s) { s.width = p.axisW; } }
      }
    },
    plugins: [keyPlugin]
  });
}

var F_RED = '#F0766D', F_TEAL = '#1FB3B8';
gsea({ left: 0, w: 520, N: 11600, padL: 16, axisW: 64.6, padR: 14.2,
  esTop: 1085, esH: 355, esPadT: 13, esPadB: 7, yMin: -0.068, yMax: 0.415, yStep: 0.1,
  titleX: 31, titleY: 232, rugTop: 1433, rugH: 210, rugPadB: 63,
  sets: [{ name: fNames[0], curve: fChemokine, color: F_RED }, { name: fNames[1], curve: fToll, color: F_TEAL }],
  rows: [{ name: fNames[1], hits: fTollHits, color: F_TEAL }, { name: fNames[0], hits: fChemokineHits, color: F_RED }],
  key: { x: 71, w: 16, h: 7, tx: 98, size: 15, rows: [164, 191] } });

var G_COL = ['#F0766D', '#B59E1E', '#2BAE3E', '#1FB5BA', '#6495D7', '#C675B9'];
gsea({ left: 500, w: 540, N: 11700, padL: 9, axisW: 61.6, padR: 18.3,
  esTop: 1065, esH: 375, esPadT: 13, esPadB: 8, yMin: -0.065, yMax: 0.605, yStep: 0.2,
  titleX: 24, titleY: 227, rugTop: 1431, rugH: 296, rugPadB: 146,
  sets: [{ name: gNames[0], curve: gAdaptive, color: G_COL[0] }, { name: gNames[1], curve: gJak, color: G_COL[1] },
    { name: gNames[2], curve: gInnate, color: G_COL[2] }, { name: gNames[3], curve: gMhc, color: G_COL[3] },
    { name: gNames[4], curve: gMyd, color: G_COL[4] }, { name: gNames[5], curve: gToll, color: G_COL[5] }],
  rows: [{ name: gNames[3], hits: gMhcHits, color: G_COL[3] }, { name: gNames[4], hits: gMydHits, color: G_COL[4] },
    { name: gNames[0], hits: gAdaptiveHits, color: G_COL[0] }, { name: gNames[5], hits: gTollHits, color: G_COL[5] },
    { name: gNames[1], hits: gJakHits, color: G_COL[1] }, { name: gNames[2], hits: gInnateHits, color: G_COL[2] }],
  key: { x: 57, w: 15, h: 6.5, tx: 83, size: 11.5, rows: [161, 186, 210, 236, 263, 289] } });

var H_COL = ['#EF766B', '#A8A21E', '#1DB57E', '#22A9E3', '#B877B8'];
gsea({ left: 1030, w: 528, N: 11680, padL: 3, axisW: 71, padR: 16,
  esTop: 1075, esH: 365, esPadT: 15, esPadB: 8, yMin: -0.093, yMax: 0.462, yStep: 0.1,
  titleX: 18, titleY: 215, rugTop: 1433, rugH: 294, rugPadB: 146,
  sets: [{ name: hNames[0], curve: hTh1, color: H_COL[0] }, { name: hNames[1], curve: hTlr4, color: H_COL[1] },
    { name: hNames[2], curve: hBcl6, color: H_COL[2] }, { name: hNames[3], curve: hTh17, color: H_COL[3] },
    { name: hNames[4], curve: hIl12, color: H_COL[4] }],
  rows: [{ name: hNames[3], hits: hTh17Hits, color: H_COL[3] }, { name: hNames[0], hits: hTh1Hits, color: H_COL[0] },
    { name: hNames[4], hits: hIl12Hits, color: H_COL[4] }, { name: hNames[2], hits: hBcl6Hits, color: H_COL[2] },
    { name: hNames[1], hits: hTlr4Hits, color: H_COL[1] }],
  key: { x: 88, w: 16, h: 6.5, tx: 114, size: 12.5, rows: [177, 201, 226, 252, 271] } });
</script>
</body>
</html>
